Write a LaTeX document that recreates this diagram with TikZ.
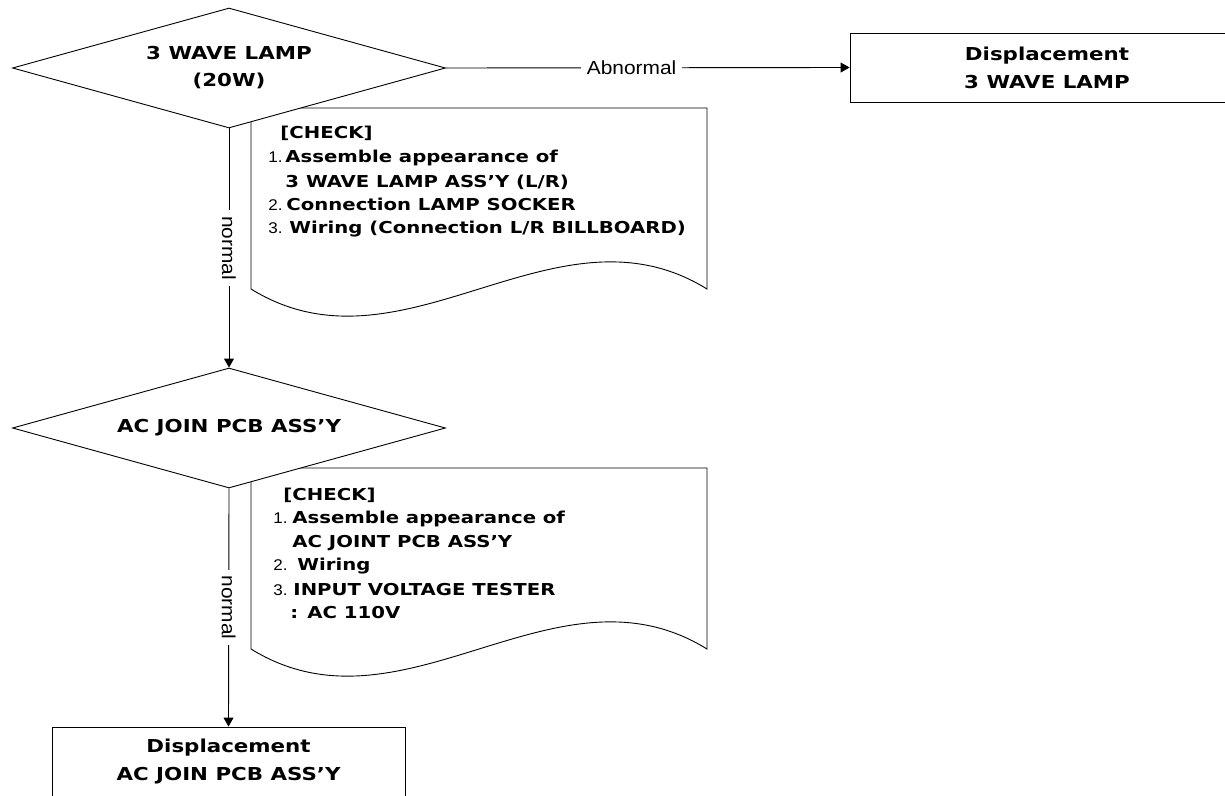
\documentclass[tikz,border=0pt]{standalone}
\usepackage{fontspec}
\usetikzlibrary{shapes.geometric,arrows.meta}
\newfontfamily\kb{DejaVu Sans}[FakeStretch=1.2]
\newfontfamily\lab{Liberation Sans}[FakeStretch=1.1]
\newcommand{\nm}[2]{\makebox[#1][l]{\lab\mdseries\fontsize{15.5}{18}\selectfont #2}}
\begin{document}
\begin{tikzpicture}[x=1pt,y=-1pt,line width=0.9pt,
  dia/.style={draw,diamond,fill=white,inner sep=0pt,minimum width=433pt,minimum height=120pt,shape aspect=3.6,align=center,font=\kb\bfseries\fontsize{17.8}{27}\selectfont},
  bx/.style={draw,fill=white,inner sep=0pt,align=center,font=\kb\bfseries\fontsize{17.8}{28}\selectfont},
  ln/.style={anchor=base west,inner sep=0pt,font=\kb\bfseries\fontsize{16.4}{18}\selectfont},
  lbl/.style={fill=white,inner xsep=6pt,inner ysep=2pt,font=\lab\fontsize{19}{22}\selectfont},
  arr/.style={-{Triangle[length=9pt,width=10pt]}},
  doc/.style={draw,fill=white}]
\useasboundingbox (0,0) rectangle (1225,795);
\clip (0,0) rectangle (1225,795);
% document shapes
\path[doc] (251,108) -- (707,108) -- (707,289) .. controls (555,195) and (403,383) .. (251,289) -- cycle;
\path[doc] (251,468) -- (707,468) -- (707,649) .. controls (555,555) and (403,743) .. (251,649) -- cycle;
% decisions
\node[dia] (d1) at (229,68) {3 WAVE LAMP\\(20W)};
\node[dia] (d2) at (229,428) {AC JOIN PCB ASS’Y};
% boxes
\node[bx,minimum width=394pt,minimum height=69pt] (b1) at (1047,67.5) {Displacement\\3 WAVE LAMP};
\node[bx,minimum width=353pt,minimum height=70pt] (b2) at (228.5,762) {Displacement\\AC JOIN PCB ASS’Y};
% check texts 1
\node[ln] (t1) at (280,138) {[CHECK]};
\node[ln] (t2) at (268,162) {\nm{17pt}{1.}Assemble appearance of};
\node[ln] (t3) at (285,187) {3 WAVE LAMP ASS’Y (L/R)};
\node[ln] (t4) at (268,210) {\nm{18pt}{2.}Connection LAMP SOCKER};
\node[ln] (t5) at (268,233) {\nm{21pt}{3.}Wiring (Connection L/R BILLBOARD)};
% check texts 2
\node[ln] (u1) at (283,500) {[CHECK]};
\node[ln] (u2) at (273,523) {\nm{19pt}{1.}Assemble appearance of};
\node[ln] (u3) at (292,547) {AC JOINT PCB ASS’Y};
\node[ln] (u4) at (273,570) {\nm{24pt}{2.}Wiring};
\node[ln] (u5) at (273,595) {\nm{20pt}{3.}INPUT VOLTAGE TESTER};
\node[ln] (u6) at (290,618) {: AC 110V};
% connectors
\draw[arr] (d1.east) -- node[lbl,pos=0.46]{Abnormal} (b1.west);
\draw[arr] (d1.south) -- node[lbl,rotate=-90]{normal} (d2.north);
\draw[arr] (d2.south) -- node[lbl,rotate=-90]{normal} (b2.north);
\end{tikzpicture}
\end{document}
